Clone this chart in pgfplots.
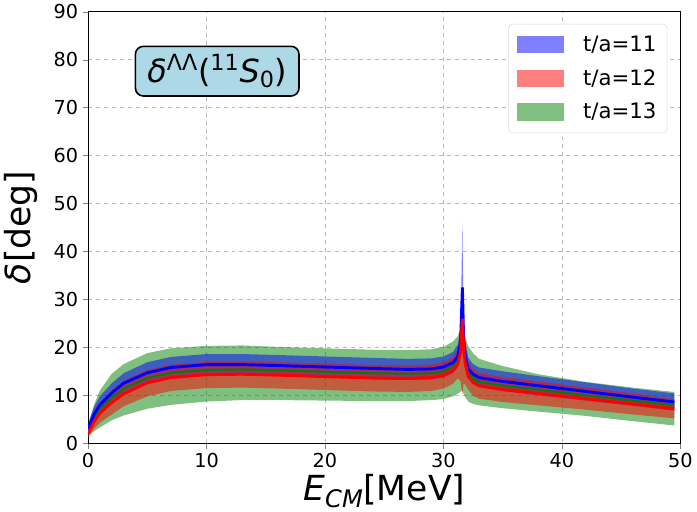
\documentclass[border=0pt]{standalone}
\usepackage{fontspec}
\setmainfont{DejaVu Sans}
\usepackage{pgfplots}
\usepackage{pgfplotstable}
\pgfplotsset{compat=1.18}
\usepgfplotslibrary{fillbetween}

\definecolor{mplgreen}{RGB}{0,128,0}
\definecolor{boxblue}{RGB}{173,216,230}

% t/a=11
\pgfplotstableread{
x c lo hi
0 3 2 4.2
0.5 6 4.5 7.6
1 8 6.2 9.8
2 10.5 8.5 12.5
3 12.5 10.4 14.6
5 14.7 12.5 16.9
7 15.8 13.6 18
10 16.4 14.2 18.6
13 16.4 14.2 18.6
16 16.2 14 18.4
20 15.9 13.7 18.1
24 15.6 13.4 17.8
27 15.4 13.2 17.6
29 15.5 13.3 17.7
30 15.9 13.7 18.1
30.8 16.8 14.6 19
31.2 18 15.7 20.5
31.45 21 18 24
31.6 32.5 27 46
31.7 22 18 25
31.85 18 15.5 21
32.1 15.5 13.5 17.8
32.5 14.4 12.4 16.5
33 13.7 11.7 15.8
35 12.9 10.9 15
38 12 10 14
42 10.8 8.9 12.7
46 9.6 7.8 11.4
49.5 8.6 6.8 10.4
}\taeleven

% t/a=12
\pgfplotstableread{
x c lo hi
0 2 1.3 3
0.5 4.5 3 6.2
1 6.3 4.3 8.3
2 8.5 6 11
3 10.3 7.7 13
5 12.6 9.8 15.3
7 13.7 10.9 16.4
10 14.3 11.5 17
13 14.4 11.6 17.1
16 14.2 11.4 16.9
20 13.9 11.1 16.6
24 13.6 10.8 16.3
27 13.5 10.7 16.2
29 13.7 10.9 16.4
30 14.2 11.4 16.9
30.8 15.2 12.4 17.9
31.2 16.5 13.5 19.5
31.45 19 13 23
31.6 26 10 27
31.7 20 12.5 22.5
31.85 16.5 12.2 19.5
32.1 13.9 11.2 16.8
32.5 12.7 9.9 15.5
33 12 9.3 14.7
35 11.2 8.6 13.8
38 10.4 7.9 12.9
42 9.3 7 11.6
46 8.2 6 10.4
49.5 7.2 5.2 9.2
}\tatwelve

% t/a=13
\pgfplotstableread{
x c lo hi
0 2.5 1.5 3.5
0.5 5.2 2.5 8
1 7.2 3.3 11
2 9.5 4.8 14.5
3 11.4 5.8 16.5
5 13.6 7.2 18.8
7 14.7 8 19.8
10 15.3 8.7 20.3
13 15.4 9 20.4
16 15.2 9 20.1
20 14.9 8.9 19.8
24 14.6 8.8 19.5
27 14.5 8.8 19.4
29 14.6 9 19.6
30 15 9.2 20.1
30.8 16 9.8 21.2
31.2 17.3 10.3 22.3
31.45 20 10.8 24
31.6 25 11 25.5
31.7 20.5 10.4 24.2
31.85 17.5 9.6 22
32.1 14.8 8.7 20.2
32.5 13.5 8.2 18.8
33 12.8 7.9 17.6
35 12 7.3 16.1
38 11.2 6.6 14.4
42 10 5.7 12.8
46 8.9 4.6 11.6
49.5 7.9 3.7 10.7
}\tathirteen

\begin{document}
\begin{tikzpicture}
\begin{axis}[
    scale only axis, width=446pt, height=325pt,
    xmin=0, xmax=50, ymin=0, ymax=90,
    xtick={0,10,...,50}, ytick={0,10,...,90},
    grid=major, grid style={dashed, gray!55, line width=0.5pt},
    axis line style={line width=0.6pt},
    tick pos=left, tick align=outside,
    major tick length=4pt,
    ticklabel style={font=\fontsize{14.5}{16}\selectfont},
    /pgf/number format/assume math mode=true,
    xlabel={\textit{E}\textsubscript{\textit{CM}}[MeV]},
    ylabel={\textit{δ}[deg]},
    label style={font=\fontsize{26}{30}\selectfont},
    xlabel style={yshift=2pt},
    ylabel style={yshift=5pt},
    legend style={at={(rel axis cs:0.978,0.972)}, anchor=north east,
        draw=gray!30, rounded corners=3pt, fill=white,
        font=\fontsize{16}{18}\selectfont,
        row sep=8pt, inner xsep=6pt, inner ysep=7pt},
    legend cell align=left,
    legend image code/.code={\fill[#1, draw=none, sharp corners] (0pt,-6.5pt) rectangle (36pt,6.5pt);
        \path (48pt,0pt);},
]
% bands
\addplot[draw=none, name path=gu, forget plot] table[x=x, y=hi] {\tathirteen};
\addplot[draw=none, name path=gl, forget plot] table[x=x, y=lo] {\tathirteen};
\addplot[fill=mplgreen, fill opacity=0.5, draw=none, forget plot] fill between[of=gu and gl];
\addplot[draw=none, name path=bu, forget plot] table[x=x, y=hi] {\taeleven};
\addplot[draw=none, name path=bl, forget plot] table[x=x, y=lo] {\taeleven};
\addplot[fill=blue, fill opacity=0.5, draw=none, forget plot] fill between[of=bu and bl];
\addplot[draw=none, name path=ru, forget plot] table[x=x, y=hi] {\tatwelve};
\addplot[draw=none, name path=rl, forget plot] table[x=x, y=lo] {\tatwelve};
\addplot[fill=red, fill opacity=0.5, draw=none, forget plot] fill between[of=ru and rl];
% central lines
\addplot[mplgreen, line width=1.5pt, forget plot] table[x=x, y=c] {\tathirteen};
\addplot[blue, line width=2.2pt, forget plot] table[x=x, y=c] {\taeleven};
\addplot[red, line width=2.2pt, forget plot] table[x=x, y=c] {\tatwelve};
% legend
\addlegendimage{fill=blue, fill opacity=0.5, draw=none}
\addlegendentry{t/a=11}
\addlegendimage{fill=red, fill opacity=0.5, draw=none}
\addlegendentry{t/a=12}
\addlegendimage{fill=mplgreen, fill opacity=0.5, draw=none}
\addlegendentry{t/a=13}
% label box
\node[fill=boxblue, draw=black, line width=1.2pt, rounded corners=6pt,
      inner xsep=9pt, inner ysep=6pt, font=\fontsize{24}{28}\selectfont]
      at (axis cs:10.9,77.6)
      {\textit{δ}\textsuperscript{ΛΛ}(\textsuperscript{11}\textit{S}\textsubscript{0})};
\end{axis}
\end{tikzpicture}
\end{document}
